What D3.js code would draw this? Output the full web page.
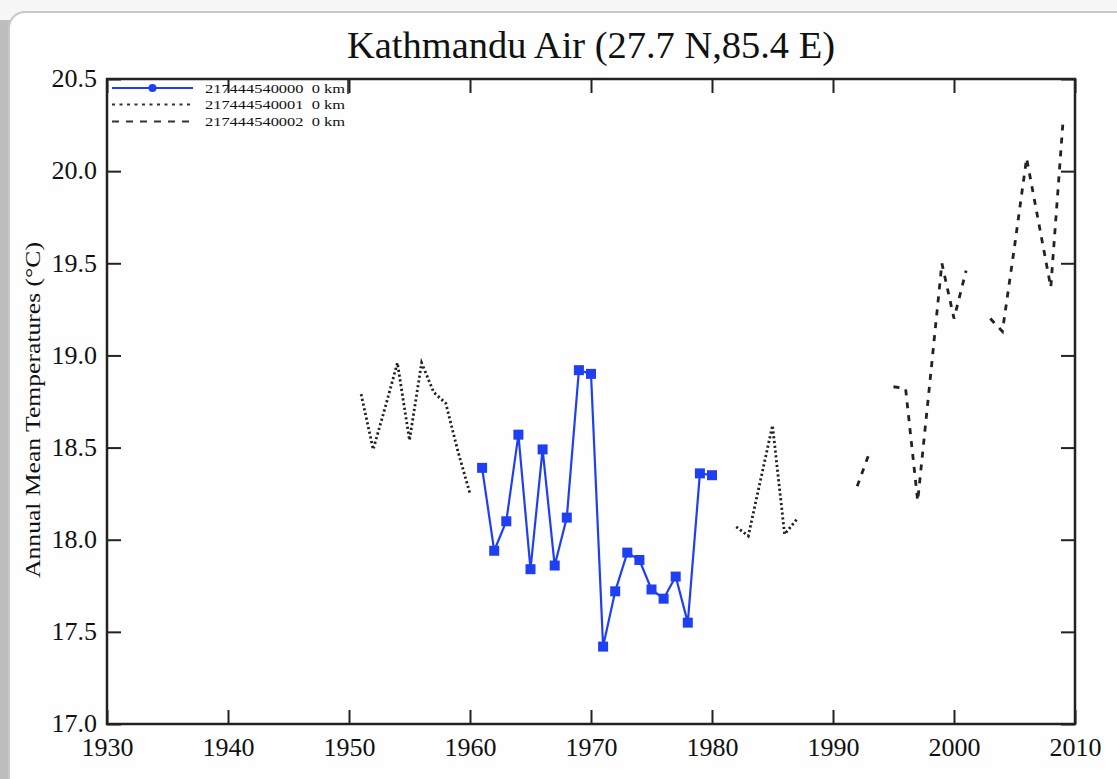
<!DOCTYPE html>
<html>
<head>
<meta charset="utf-8">
<script src="https://cdn.jsdelivr.net/npm/d3@7"></script>
<style>
html,body{margin:0;padding:0;background:#f4f4f4;}
svg{display:block;}
text{font-family:"Liberation Serif","Times New Roman",serif;fill:#111;}
</style>
</head>
<body>
<svg id="chart" width="1117" height="779"></svg>
<script>
const titleText = "Kathmandu Air (27.7 N,85.4 E)";
const yAxisLabel = "Annual Mean Temperatures (°C)";
const xTicks = [1930,1940,1950,1960,1970,1980,1990,2000,2010];
const yTicks = [17.0,17.5,18.0,18.5,19.0,19.5,20.0,20.5];

const seriesNames = ["217444540000  0 km","217444540001  0 km","217444540002  0 km"];

// Series 0 (blue, markers)
const years0 = [1961,1962,1963,1964,1965,1966,1967,1968,1969,1970,1971,1972,1973,1974,1975,1976,1977,1978,1979,1980];
const temps0 = [18.39,17.94,18.10,18.57,17.84,18.49,17.86,18.12,18.92,18.90,17.42,17.72,17.93,17.89,17.73,17.68,17.80,17.55,18.36,18.35];

// Series 1 (dotted)
const years1 = [1951,1952,1953,1954,1955,1956,1957,1958,1959,1960,1961,1981,1982,1983,1984,1985,1986,1987];
const temps1 = [18.79,18.49,18.72,18.96,18.54,18.96,18.80,18.74,18.48,18.25,null,null,18.07,18.02,18.32,18.62,18.03,18.11];

// Series 2 (dashed)
const years2 = [1992,1993,1994,1995,1996,1997,1998,1999,2000,2001,2002,2003,2004,2005,2006,2007,2008,2009];
const temps2 = [18.29,18.47,null,18.83,18.82,18.21,18.85,19.50,19.20,19.46,null,19.20,19.13,19.59,20.07,19.72,19.37,20.26];

(function(){
const svg = d3.select("#chart");

// card background
svg.append("rect").attr("x",0).attr("y",0).attr("width",1117).attr("height",779).attr("fill","#f7f7f7");
svg.append("rect").attr("x",0).attr("y",20).attr("width",12).attr("height",770).attr("fill","#bdbdbd");
svg.append("rect").attr("x",9).attr("y",12).attr("width",1130).attr("height",790)
  .attr("rx",16).attr("fill","#fefefe").attr("stroke","#c8c8c8").attr("stroke-width",2);

const pL=107, pR=1075, pT=79, pB=724;
const x = d3.scaleLinear().domain([1930,2010]).range([pL,pR]);
const y = d3.scaleLinear().domain([17,20.5]).range([pB,pT]);

// title
svg.append("text").attr("x",591).attr("y",58).attr("text-anchor","middle")
  .attr("font-size",37).attr("textLength",488).attr("lengthAdjust","spacingAndGlyphs")
  .text(titleText);

// y label
svg.append("text").attr("transform","translate(40,410) rotate(-90)")
  .attr("text-anchor","middle").attr("font-size",21)
  .attr("textLength",336).attr("lengthAdjust","spacingAndGlyphs")
  .text(yAxisLabel);

// axes (inner ticks)
const tickLen = 14;
const axB = svg.append("g").attr("transform",`translate(0,${pB})`)
  .call(d3.axisBottom(x).tickValues(xTicks).tickFormat(d3.format("d")).tickSizeInner(-tickLen).tickSizeOuter(0).tickPadding(14));
const axT = svg.append("g").attr("transform",`translate(0,${pT})`)
  .call(d3.axisTop(x).tickValues(xTicks).tickFormat("").tickSizeInner(-tickLen).tickSizeOuter(0));
const axL = svg.append("g").attr("transform",`translate(${pL},0)`)
  .call(d3.axisLeft(y).tickValues(yTicks).tickFormat(d3.format(".1f")).tickSizeInner(-tickLen).tickSizeOuter(0).tickPadding(10));
const axR = svg.append("g").attr("transform",`translate(${pR},0)`)
  .call(d3.axisRight(y).tickValues(yTicks).tickFormat("").tickSizeInner(-tickLen).tickSizeOuter(0));

[axB,axT,axL,axR].forEach(g=>{
  g.select(".domain").remove();
  g.selectAll(".tick line").attr("stroke","#222").attr("stroke-width",2);
  g.selectAll("text").attr("font-size",26).attr("fill","#111");
});
axL.selectAll("text").attr("dy","0.3em");

// frame
svg.append("rect").attr("x",pL).attr("y",pT).attr("width",pR-pL).attr("height",pB-pT)
  .attr("fill","none").attr("stroke","#222").attr("stroke-width",2.5);

const line = d3.line().defined(d=>d[1]!==null).x(d=>x(d[0])).y(d=>y(d[1]));
const d0 = years0.map((yr,i)=>[yr,temps0[i]]);
const d1 = years1.map((yr,i)=>[yr,temps1[i]]);
const d2 = years2.map((yr,i)=>[yr,temps2[i]]);

const blue = "#1f3ff2";
svg.append("path").datum(d1).attr("d",line).attr("fill","none").attr("stroke","#222")
  .attr("stroke-width",2.8).attr("stroke-dasharray","2.2,2.6");
svg.append("path").datum(d2).attr("d",line).attr("fill","none").attr("stroke","#222")
  .attr("stroke-width",2.8).attr("stroke-dasharray","6,7");
svg.append("path").datum(d0).attr("d",line).attr("fill","none").attr("stroke",blue).attr("stroke-width",2.2);
svg.selectAll("rect.mk").data(d0).enter().append("rect").attr("class","mk")
  .attr("x",d=>x(d[0])-5).attr("y",d=>y(d[1])-5).attr("width",10).attr("height",10).attr("fill",blue);

// legend
const leg = svg.append("g");
const legY = [88,104.5,121.5];
const legStyles = [{dash:null,color:blue},{dash:"3,4.5",color:"#333"},{dash:"7,7",color:"#333"}];
seriesNames.forEach((name,i)=>{
  const l = leg.append("line").attr("x1",112).attr("x2",193).attr("y1",legY[i]).attr("y2",legY[i])
    .attr("stroke",legStyles[i].color).attr("stroke-width",i===0?1.8:2.2);
  if(legStyles[i].dash) l.attr("stroke-dasharray",legStyles[i].dash);
  leg.append("text").attr("x",205).attr("y",legY[i]+4.5).attr("font-size",13)
    .style("white-space","pre")
    .attr("textLength",140).attr("lengthAdjust","spacingAndGlyphs").attr("fill","#333").text(name);
});
leg.append("circle").attr("cx",152.5).attr("cy",legY[0]).attr("r",4).attr("fill",blue);
leg.append("line").attr("x1",348).attr("x2",348).attr("y1",80).attr("y2",94).attr("stroke","#222").attr("stroke-width",1.5);
})();
</script>
</body>
</html>
